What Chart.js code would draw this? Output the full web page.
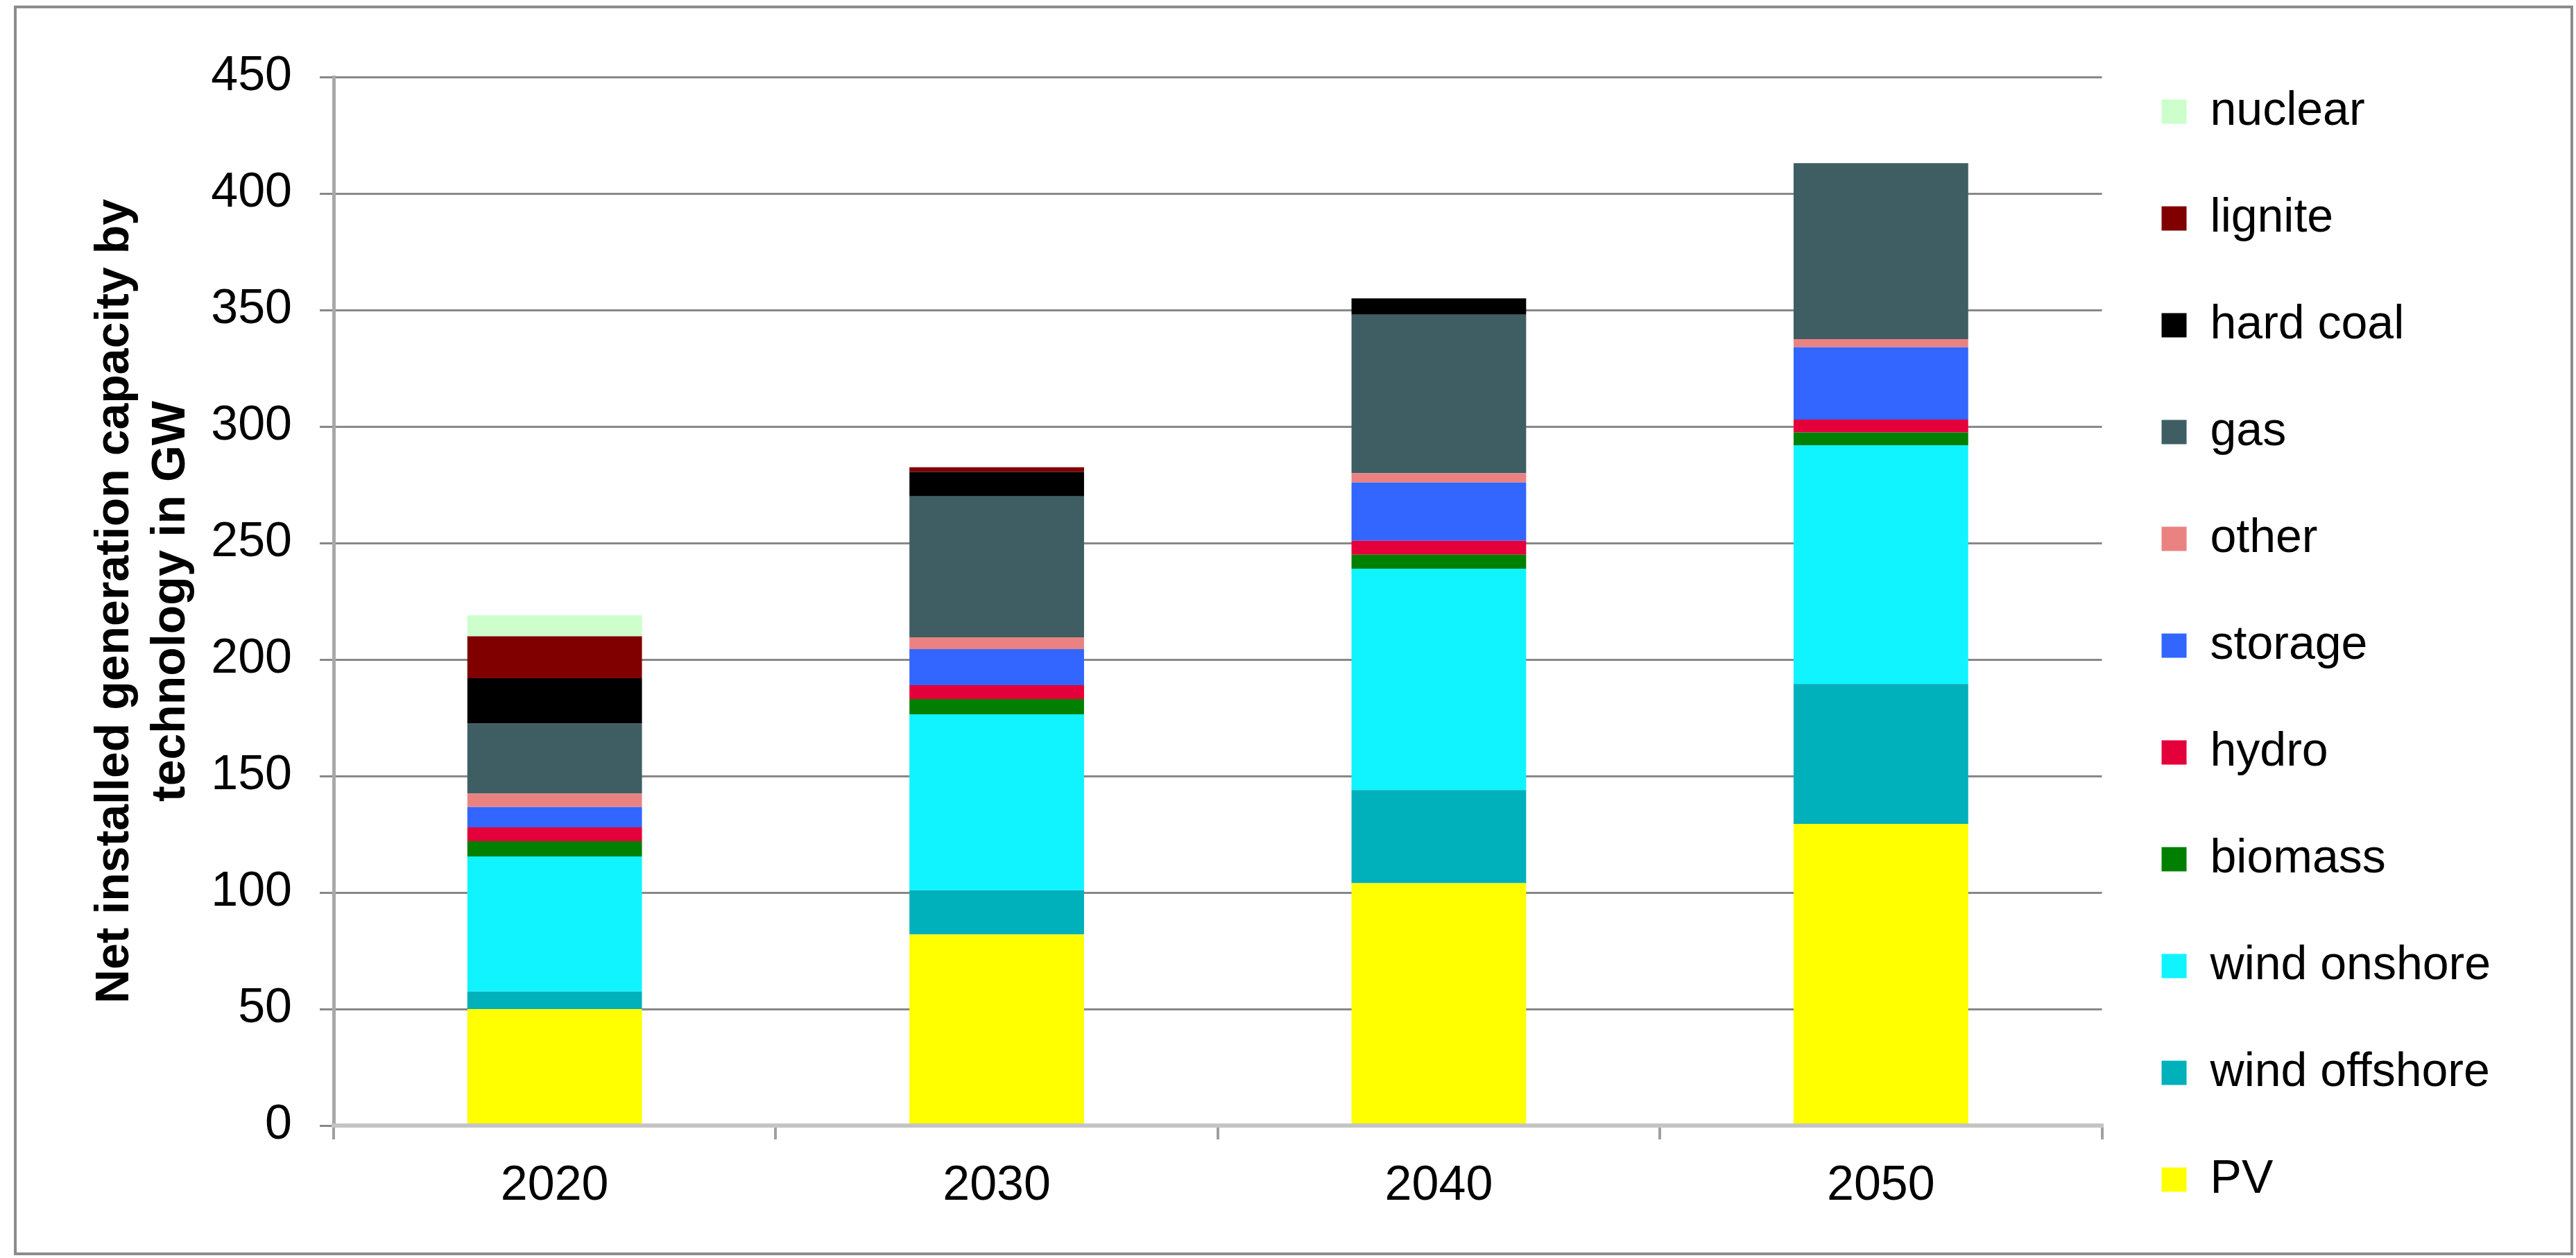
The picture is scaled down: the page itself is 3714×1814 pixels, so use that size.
<!DOCTYPE html>
<html>
<head>
<meta charset="utf-8">
<script src="https://cdn.jsdelivr.net/npm/chart.js@4.4.1/dist/chart.umd.min.js"></script>
<style>
    html, body { margin: 0; padding: 0; background: #fff; }
    #wrap { position: relative; width: 3714px; height: 1814px; }
    #frame {
        position: absolute; left: 20px; top: 8px; width: 3682px; height: 1794px;
        border: 4px solid #8c8c8c; pointer-events: none;
    }
</style>
</head>
<body>
<div id="wrap">
    <canvas id="capacityChart" width="3714" height="1814"></canvas>
    <div id="frame"></div>
</div>
<script>
// categories and values (GW)
const years = ['2020', '2030', '2040', '2050'];
const yTicks = [0, 50, 100, 150, 200, 250, 300, 350, 400, 450];

const pv = [50, 82, 104, 129.5];
const windOffshore = [7.5, 19, 40, 60];
const windOnshore = [58, 75.5, 95, 102.5];
const biomass = [6.5, 6.5, 6, 5.5];
const hydro = [6, 6, 6, 5.5];
const storage = [8.7, 15.5, 25, 31];
const other = [5.8, 5, 4, 3.5];
const gas = [30, 60.5, 68, 75.5];
const hardCoal = [19.5, 10.5, 7, 0];
const lignite = [18, 2, 0, 0];
const nuclear = [9, 0, 0, 0];

const series = [
    { label: 'PV', data: pv, color: '#FFFF00' },
    { label: 'wind offshore', data: windOffshore, color: '#00B0BA' },
    { label: 'wind onshore', data: windOnshore, color: '#10F4FF' },
    { label: 'biomass', data: biomass, color: '#008000' },
    { label: 'hydro', data: hydro, color: '#E4003A' },
    { label: 'storage', data: storage, color: '#3366FF' },
    { label: 'other', data: other, color: '#EB8282' },
    { label: 'gas', data: gas, color: '#3E5E63' },
    { label: 'hard coal', data: hardCoal, color: '#000000' },
    { label: 'lignite', data: lignite, color: '#800000' },
    { label: 'nuclear', data: nuclear, color: '#CCFFCC' }
];

const fontFamily = '"Liberation Sans", Arial, Helvetica, sans-serif';

new Chart(document.getElementById('capacityChart'), {
    type: 'bar',
    data: {
        labels: years,
        datasets: series.map(s => ({
            label: s.label,
            data: s.data,
            backgroundColor: s.color,
            borderWidth: 0,
            barPercentage: 0.395,
            categoryPercentage: 1
        }))
    },
    options: {
        responsive: false,
        animation: false,
        devicePixelRatio: 1,
        // bottom is negative so the one-column legend has room for all 11 items
        layout: { padding: { top: 41, right: 113, bottom: -8, left: 0 } },
        plugins: {
            tooltip: { enabled: false },
            // empty spacer above the plot only, so the legend keeps the full height
            title: {
                display: true,
                text: '',
                fullSize: false,
                font: { size: 10, lineHeight: 1 },
                padding: { top: 60, bottom: 0 }
            },
            legend: {
                position: 'right',
                align: 'start',
                reverse: true,
                labels: {
                    color: '#000',
                    font: { family: fontFamily, size: 68 },
                    boxWidth: 36,
                    boxHeight: 35,
                    padding: 86
                }
            }
        },
        scales: {
            x: {
                stacked: true,
                grid: {
                    drawOnChartArea: false,
                    drawTicks: true,
                    tickLength: 20,
                    color: '#a0a0a0',
                    lineWidth: 4
                },
                border: { color: '#c4c4c4', width: 6, z: 1 },
                ticks: {
                    color: '#000',
                    font: { family: fontFamily, size: 70 },
                    padding: 26
                },
                afterFit: function(scale) { scale.height = 199; }
            },
            y: {
                stacked: true,
                min: 0,
                max: 450,
                afterBuildTicks: function(scale) {
                    scale.ticks = yTicks.map(v => ({ value: v }));
                },
                grid: {
                    color: '#888888',
                    lineWidth: 3,
                    tickLength: 20
                },
                border: { color: '#a8a8a8', width: 5 },
                ticks: {
                    color: '#000',
                    font: { family: fontFamily, size: 70 },
                    padding: 40
                },
                title: {
                    display: true,
                    text: ['Net installed generation capacity by', 'technology in GW'],
                    color: '#000',
                    font: { family: fontFamily, size: 68, weight: 'bold', lineHeight: 1.2 },
                    padding: { top: 125, bottom: 0 }
                },
                afterFit: function(scale) { scale.width = 481; }
            }
        }
    }
});
</script>
</body>
</html>
